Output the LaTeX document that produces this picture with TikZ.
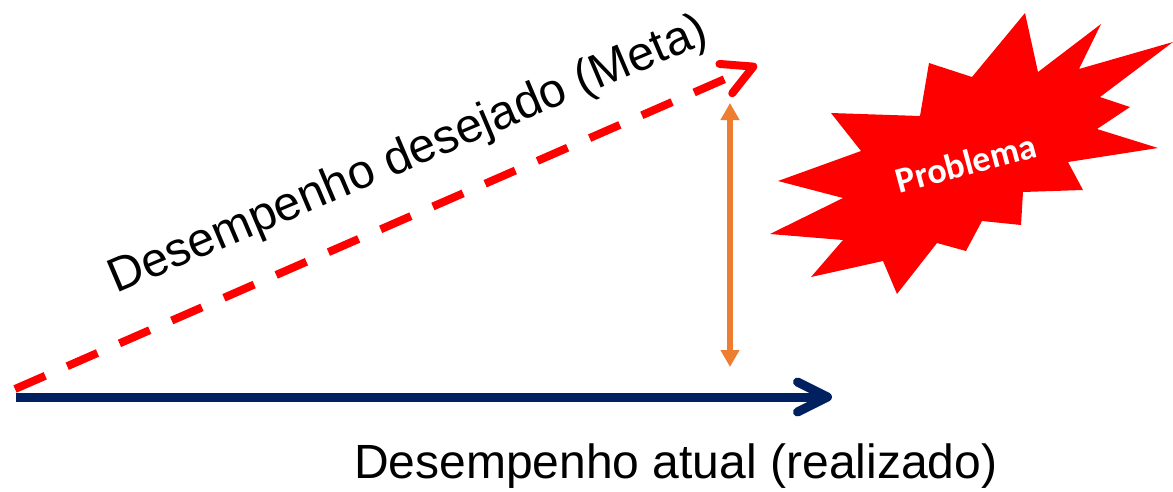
\documentclass[tikz,border=0pt]{standalone}
\usepackage{fontspec}
\setmainfont{Liberation Sans}
\newfontfamily\carlito{Carlito}
\usetikzlibrary{arrows.meta}
\definecolor{navy}{HTML}{002060}
\definecolor{orng}{HTML}{ED7D31}
\definecolor{rred}{HTML}{FF0000}
\begin{document}
\begin{tikzpicture}[x=1pt,y=-1pt,
  lbl/.style={font=\fontsize{48}{52}\selectfont, inner sep=0pt, text=black},
  goalline/.style={draw=rred, line width=8pt, dash pattern=on 33pt off 24pt,
    -{Straight Barb[length=30pt,width=32pt,line width=8pt,round]}},
  actualline/.style={draw=navy, line width=9pt,
    -{Straight Barb[length=30pt,width=30pt,line width=9pt,round]}},
  gapline/.style={draw=orng, line width=6.5pt,
    {Triangle[length=17pt,width=18pt]}-{Triangle[length=17pt,width=18pt]}},
  burst/.style={fill=rred, draw=none},
  burstlbl/.style={font=\carlito\bfseries\fontsize{36}{40}\selectfont, text=white, inner sep=0pt}
]
\useasboundingbox (0,0) rectangle (1173,491);

% coordinates
\coordinate (gs) at (15,389);
\coordinate (ge) at (757,65);
\coordinate (as) at (16,397);
\coordinate (ae) at (832,397);
\coordinate (gt) at (730,103);
\coordinate (gb) at (730,367);

% starburst
\path[burst] (1025,13) -- (1038,72) -- (1101,24) -- (1079,69) -- (1173,42)
  -- (1100,97) -- (1130,107) -- (1097,129) -- (1158,148) -- (1068,162)
  -- (1083,190) -- (1023,192) -- (1021,225) -- (982,221) -- (966,251)
  -- (937,243) -- (897,294) -- (883,261) -- (811,277) -- (843,240)
  -- (770,234) -- (843,198) -- (778,181) -- (861,151) -- (831,113)
  -- (920,116) -- (929,63) -- (972,77) -- cycle;
\node[burstlbl, rotate=15] (prob) at (966,163) {Problema};

% arrows
\draw[goalline] (gs) -- (ge);
\draw[actualline] (as) -- (ae);
\draw[gapline] (gt) -- (gb);

% labels
\node[lbl, anchor=base west, rotate=23] (meta) at (116,294) {Desempenho desejado (Meta)};
\node[lbl, anchor=base west] (atual) at (354,478) {Desempenho atual (realizado)};
\end{tikzpicture}
\end{document}
